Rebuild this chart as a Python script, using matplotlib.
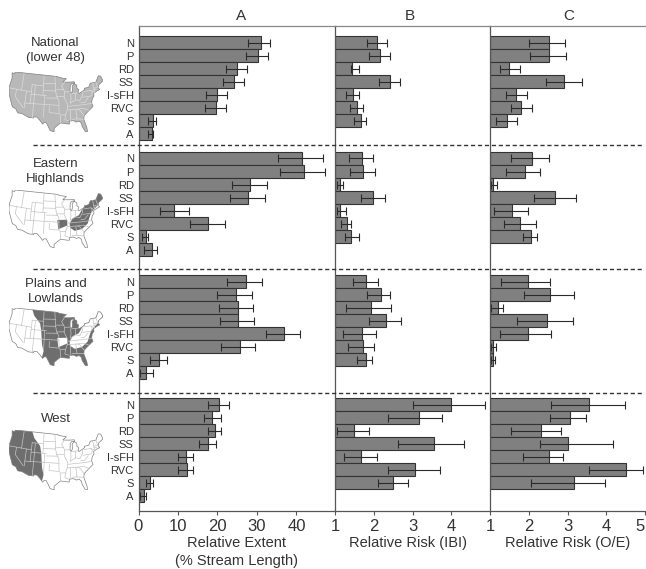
import numpy as np
import matplotlib
matplotlib.use('Agg')
import matplotlib.pyplot as plt
from matplotlib.lines import Line2D
from matplotlib.patches import Polygon

plt.rcParams['font.family'] = ['Liberation Sans', 'DejaVu Sans']

W, H = 646, 569

stressors = ['N', 'P', 'RD', 'SS', 'I-sFH', 'RVC', 'S', 'A']
regions = ['National\n(lower 48)', 'Eastern\nHighlands', 'Plains and\nLowlands', 'West']
panel_titles = ['A', 'B', 'C']
panel_xlabels = ['Relative Extent\n(% Stream Length)', 'Relative Risk (IBI)', 'Relative Risk (O/E)']

# panel A, relative extent
a_nat = [31.0, 30.2, 24.9, 24.2, 19.8, 19.7, 3.6, 3.4]
a_nat_lo = [27.8, 27.3, 22.2, 21.4, 17.0, 16.8, 2.4, 2.5]
a_nat_hi = [33.2, 32.7, 27.4, 26.8, 22.4, 22.2, 4.5, 3.6]
a_east = [41.5, 41.9, 28.3, 27.8, 9.1, 17.6, 1.9, 3.4]
a_east_lo = [35.4, 35.9, 23.7, 23.2, 5.5, 13.1, 0.8, 1.4]
a_east_hi = [46.7, 47.1, 32.5, 32.1, 12.7, 21.9, 2.4, 4.6]
a_plains = [27.3, 24.6, 25.1, 25.2, 36.8, 25.6, 5.2, 1.9]
a_plains_lo = [22.4, 19.8, 20.4, 20.7, 32.2, 20.8, 2.8, 0.4]
a_plains_hi = [31.2, 28.8, 28.9, 29.3, 40.8, 29.6, 7.3, 3.6]
a_west = [20.4, 18.5, 19.3, 17.6, 12.1, 12.2, 2.8, 1.3]
a_west_lo = [17.5, 16.5, 17.5, 15.4, 10.1, 10.0, 1.8, 0.4]
a_west_hi = [22.8, 20.8, 21.0, 19.7, 13.8, 13.7, 3.7, 1.9]

# panel B, relative risk IBI (no A bar)
b_nat = [2.09, 2.16, 1.44, 2.43, 1.46, 1.56, 1.66]
b_nat_lo = [1.82, 1.88, 1.42, 2.14, 1.28, 1.39, 1.49]
b_nat_hi = [2.35, 2.42, 1.61, 2.69, 1.62, 1.71, 1.80]
b_east = [1.70, 1.71, 1.13, 1.98, 1.13, 1.30, 1.42]
b_east_lo = [1.37, 1.39, 1.06, 1.68, 1.06, 1.15, 1.25]
b_east_hi = [1.99, 2.02, 1.20, 2.29, 1.28, 1.40, 1.63]
b_plains = [1.80, 2.18, 1.92, 2.31, 1.69, 1.71, 1.80]
b_plains_lo = [1.47, 1.82, 1.28, 1.89, 1.20, 1.34, 1.58]
b_plains_hi = [2.10, 2.43, 2.44, 2.71, 2.06, 2.01, 1.95]
b_west = [3.99, 3.16, 1.49, 3.55, 1.67, 3.06, 2.49]
b_west_lo = [3.01, 2.38, 1.04, 2.62, 1.22, 2.36, 2.12]
b_west_hi = [4.87, 3.77, 1.89, 4.34, 2.09, 3.71, 2.89]

# panel C, relative risk O/E (no A bar)
c_nat = [2.51, 2.52, 1.49, 2.92, 1.68, 1.81, 1.45]
c_nat_lo = [2.01, 2.03, 1.25, 2.44, 1.40, 1.55, 1.15]
c_nat_hi = [2.94, 2.96, 1.77, 3.38, 1.95, 2.09, 1.70]
c_east = [2.08, 1.91, 1.09, 2.69, 1.56, 1.78, 2.07]
c_east_lo = [1.55, 1.40, 1.03, 2.14, 1.11, 1.37, 1.86]
c_east_hi = [2.52, 2.30, 1.18, 3.22, 1.98, 2.18, 2.20]
c_plains = [1.98, 2.56, 1.20, 2.48, 1.98, 1.08, 1.08]
c_plains_lo = [1.28, 1.89, 1.03, 1.70, 1.25, 1.03, 1.03]
c_plains_hi = [2.54, 3.18, 1.34, 3.14, 2.58, 1.15, 1.14]
c_west = [3.55, 3.06, 2.31, 3.00, 2.51, 4.50, 3.16]
c_west_lo = [2.58, 2.54, 1.55, 2.30, 1.85, 3.55, 2.06]
c_west_hi = [4.48, 3.49, 2.84, 4.17, 2.88, 4.96, 3.96]

# rough outline of the lower 48 and the three ecoregions, lon/lat
us_outline = [(-124.7,48.4),(-123,48.3),(-122.8,49),(-95.2,49),(-94.6,48.7),(-92,48.3),(-89.6,48),(-92,46.7),
    (-90,46.6),(-87.5,46.5),(-84.8,46.5),(-84.6,45.9),(-86.5,45.8),(-87.5,45),(-87.8,42.5),(-87,41.7),(-86.3,43),
    (-86.3,44.8),(-85,45.7),(-83.4,45),(-83.5,43.7),(-82.5,43),(-83.1,42),(-82.5,41.4),(-79,42.7),(-79,43.3),
    (-76.3,43.5),(-75,45),(-71.5,45),(-70.3,46.3),(-69.2,47.4),(-67.8,47),(-67,44.9),(-70.2,43.6),(-70.8,42.5),
    (-70,41.7),(-71.5,41.4),(-74,40.6),(-74,39.5),(-75.3,38.5),(-75.8,37.2),(-76,36.9),(-75.5,35.3),(-77.8,34),
    (-79.5,33),(-81,32),(-81.4,30.5),(-80.3,27),(-80.2,25.3),(-81.2,25.2),(-82.7,27.8),(-82.8,29),(-84,30),
    (-85.4,29.7),(-87,30.4),(-89.2,30.3),(-89.2,29.1),(-91,29.3),(-93.8,29.7),(-95,29),(-97.2,27.5),(-97.2,26),
    (-99.2,26.5),(-101.4,29.8),(-102.7,29.7),(-103.2,29),(-104.8,30.5),(-106.5,31.8),(-108.2,31.8),(-108.2,31.3),
    (-111,31.3),(-114.8,32.5),(-117.1,32.5),(-118.5,34),(-120.6,34.6),(-122,36.8),(-123.8,39.5),(-124.3,41),
    (-124.5,43),(-124,46.3)]
west_area = [(-127,50),(-112,50),(-110,47),(-106,44),(-105,41),(-104.5,38),(-104,35),(-103,32),(-104,28),(-110,28),(-127,30)]
plains_area = [(-112,50),(-60,50),(-60,20),(-104,20),(-104,28),(-103,32),(-104,35),(-104.5,38),(-105,41),(-106,44),(-110,47)]
ozark_area = [(-95.5,38),(-90,38),(-90,35.5),(-95,34)]
east_area = [(-86.5,38.5),(-83,39.5),(-81,41.5),(-79,43.5),(-76,45.5),(-72,46),(-69,48),(-66,46),(-69,43.5),(-73,41.5),
    (-75.5,40),(-77,38),(-78.5,35.5),(-82,33.5),(-86,33),(-88.5,34.5),(-88.5,36.5)]
state_lines = [[(-117,49),(-117,42)],[(-124.5,42),(-111,42)],[(-111,45),(-111,37)],[(-120,42),(-120,39),(-114.6,35)],
    [(-114,42),(-114,35)],[(-114,37),(-94.6,37)],[(-109,45),(-109,31.3)],[(-104,49),(-104,41)],[(-103,41),(-103,32)],
    [(-111,45),(-104,45)],[(-111,41),(-102,41)],[(-104,43),(-96.5,43)],[(-104,46),(-96.5,46)],
    [(-97,49),(-96.5,43),(-95.8,40.5),(-94.6,39),(-94.6,36.5),(-94.5,33.6)],[(-102,40),(-95.3,40)],
    [(-100,36.5),(-100,34),(-94.5,33.6)],[(-91.5,43.5),(-96.5,43.5)],[(-95.8,40.6),(-91.5,40.6)],
    [(-90.5,47),(-92.8,45),(-91,42.5),(-91.5,40.4),(-89.5,37),(-90,35),(-91,33),(-91.5,31),(-89.7,30.5)],
    [(-94,33),(-91,33)],[(-94,33),(-93.8,29.7)],[(-87.8,42.5),(-90.7,42.5)],[(-87.5,41.7),(-87.5,39.5),(-88,37.8)],
    [(-84.8,41.7),(-84.8,39)],[(-87,41.7),(-83.5,41.7)],[(-89.5,36.5),(-82,36.6),(-75.9,36.6)],
    [(-90,35),(-84.3,35),(-81,35.1),(-78,33.9)],[(-88.3,35),(-88.4,30.3)],[(-85.2,35),(-85,31),(-87.6,31)],
    [(-85,31),(-82,30.6),(-81.5,30.7)],[(-84.3,35),(-83,34.5),(-81,32)],[(-88,37.8),(-84.8,39),(-82.6,38.4),(-80.5,40.6),(-80.5,42)],
    [(-82,37.5),(-80,37.5),(-77.5,39.2)],[(-80.5,39.7),(-75.7,39.7)],[(-79.5,42),(-75.3,42),(-73.6,41)],
    [(-75.3,42),(-74.7,41.4),(-75.2,39.9)],[(-73.5,45),(-73.3,41)],[(-73.4,42.7),(-71.3,42.7)],[(-71.5,45),(-71,43)],
    [(-73.5,42),(-71.8,42)]]


def project(points):
    # simple conic projection so the border curves like the original maps
    pts = np.array(points)
    theta = np.radians(pts[:, 0] + 96) * 0.45
    rho = 90 - pts[:, 1] + 45
    return np.column_stack([rho * np.sin(theta), -rho * np.cos(theta)])


def px_axes(left, top, right, bottom, **kw):
    return fig.add_axes([left / W, 1 - bottom / H, (right - left) / W, (bottom - top) / H], **kw)


def draw_map(top, bottom, areas, base, lines):
    ax = px_axes(9, top, 103, bottom)
    ax.axis('off')
    xy = project(us_outline)
    outline = Polygon(xy, fc=base, ec='none')
    ax.add_patch(outline)
    for area, color in areas:
        ax.add_patch(Polygon(project(area), fc=color, ec='none', clip_path=outline))
    for seg in state_lines:
        s = project(seg)
        ax.plot(s[:, 0], s[:, 1], color=lines, lw=0.5, clip_path=outline)
    ax.add_patch(Polygon(xy, fc='none', ec='#808080', lw=0.5))
    ax.set_xlim(xy[:, 0].min(), xy[:, 0].max())
    ax.set_ylim(xy[:, 1].min(), xy[:, 1].max())


fig = plt.figure(figsize=(W / 100, H / 100), dpi=100)

group_starts = [1.27, 10.19, 19.65, 29.12]
panels = [
    [(a_nat, a_nat_lo, a_nat_hi), (a_east, a_east_lo, a_east_hi), (a_plains, a_plains_lo, a_plains_hi), (a_west, a_west_lo, a_west_hi)],
    [(b_nat, b_nat_lo, b_nat_hi), (b_east, b_east_lo, b_east_hi), (b_plains, b_plains_lo, b_plains_hi), (b_west, b_west_lo, b_west_hi)],
    [(c_nat, c_nat_lo, c_nat_hi), (c_east, c_east_lo, c_east_hi), (c_plains, c_plains_lo, c_plains_hi), (c_west, c_west_lo, c_west_hi)],
]
edges = [(138.5, 335), (335, 490), (490, 645)]
xlims = [(0, 49.75), (1, 5), (1, 5)]
xticks = [[0, 10, 20, 30, 40], [1, 2, 3, 4], [1, 2, 3, 4, 5]]
label_x = [0.5, 0.47, 0.5]
dark = '#333333'

for p, groups in enumerate(panels):
    ax = px_axes(edges[p][0], 26, edges[p][1], 511)
    ax.set_xlim(*xlims[p])
    ax.set_ylim(37.3, 0)
    base = xlims[p][0]
    for start, (vals, lo, hi) in zip(group_starts, groups):
        y = start + np.arange(len(vals))
        v = np.array(vals)
        ax.barh(y, v - base, left=base, height=1.0, color='#808080', edgecolor='#333333', linewidth=0.8)
        err = [v - np.array(lo), np.array(hi) - v]
        ax.errorbar(v, y, xerr=err, fmt='none', ecolor='#2a2a2a', elinewidth=0.8, capsize=3, capthick=0.8)
    ax.set_xticks(xticks[p])
    ax.tick_params(axis='x', length=3, width=0.8, pad=3, labelsize=12, color='#555555', labelcolor=dark)
    if p == 0:
        ax.set_yticks([s + i for s in group_starts for i in range(8)])
        ax.set_yticklabels(stressors * 4, fontsize=8, color=dark)
        ax.tick_params(axis='y', length=0, pad=3.5)
    else:
        ax.set_yticks([])
    if p == 2:
        # the 5 sits right at the edge of the picture
        ax.get_xticklabels()[-1].set_ha('right')
    for side in ax.spines:
        ax.spines[side].set_color('#555555')
        ax.spines[side].set_linewidth(0.9)
    ax.spines['right'].set_visible(False)
    ax.spines['top'].set_color('#888888')
    ax.set_title(panel_titles[p], fontsize=11, color=dark, pad=4, x=label_x[p] + (0.02 if p == 0 else 0.01))
    ax.set_xlabel(panel_xlabels[p], fontsize=10.5, color=dark, labelpad=1, x=label_x[p], linespacing=1.35)

# dashed separators between regions
for y in [144.5, 268.5, 393]:
    fig.add_artist(Line2D([33 / W, 642 / W], [1 - y / H, 1 - y / H], color='#333333', lw=1.0, ls=(0, (3, 2))))

label_y = [50.5, 171.5, 291.5, 419]
for name, y in zip(regions, label_y):
    fig.text(55.5 / W, 1 - y / H, name, ha='center', va='center', fontsize=9.5, color=dark, linespacing=1.25)

draw_map(72, 132, [], '#b8b8b8', '#dcdcdc')
draw_map(190, 248, [(east_area, '#6e6e6e'), (ozark_area, '#6e6e6e')], '#ffffff', '#c4c4c4')
draw_map(308, 366, [(plains_area, '#6e6e6e'), (east_area, '#ffffff'), (ozark_area, '#ffffff')], '#ffffff', '#c4c4c4')
draw_map(430, 490, [(west_area, '#6e6e6e')], '#ffffff', '#c4c4c4')

fig.savefig('out.png', dpi=100)
